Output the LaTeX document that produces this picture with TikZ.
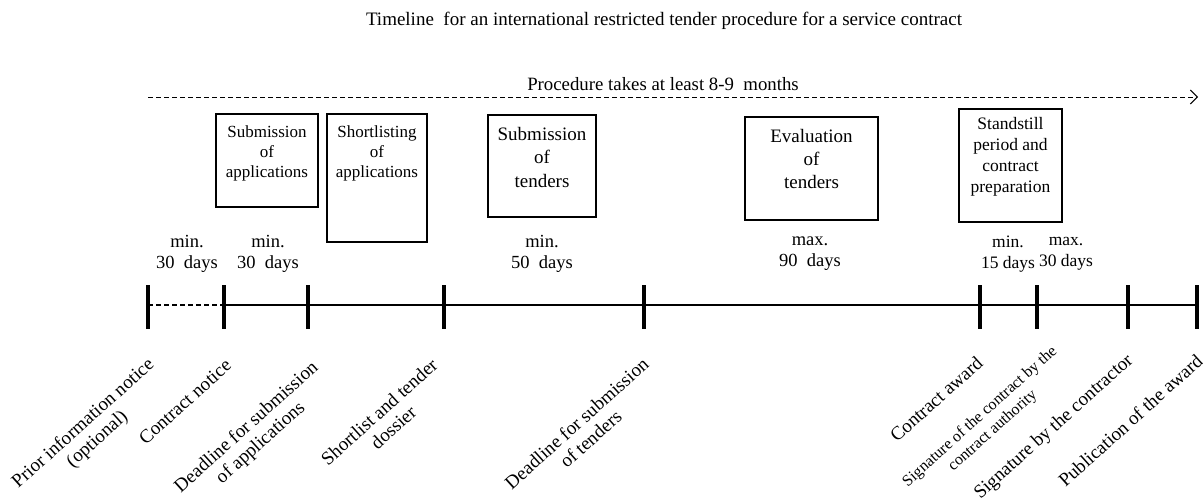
\documentclass[tikz,border=0pt]{standalone}
\usepackage{fontspec}
\setmainfont{Liberation Serif}
\usetikzlibrary{arrows.meta}
\begin{document}
\begin{tikzpicture}[x=1pt,y=-1pt,
  every node/.style={inner sep=0pt, outer sep=0pt},
  txt/.style={font=\fontsize{17}{20}\selectfont, align=center},
  boxframe/.style={draw, line width=1.2pt, inner sep=0pt},
  boxtext/.style={txt, anchor=north},
  dur/.style={font=\fontsize{18.5}{21}\selectfont, align=center},
  tick/.style={line width=3.6pt},
  evlabel/.style={font=\fontsize{19}{21}\selectfont, align=center, rotate=42, anchor=north east},
]
\useasboundingbox (0,0) rectangle (1203,501);

% title
\node[font=\fontsize{19}{22}\selectfont] (title) at (664,21) {Timeline\ \ for an international restricted tender procedure for a service contract};

% overall dashed arrow
\coordinate (arrS) at (148,97);
\coordinate (arrE) at (1198,97);
\draw[dashed, line width=0.9pt, dash pattern=on 5pt off 3pt, -{Straight Barb[length=7pt,width=14pt,line width=1pt]}] (arrS) -- (arrE);
\node[font=\fontsize{18.8}{22}\selectfont] (proc) at (663,84) {Procedure takes at least 8-9\ \ months};

% boxes
\node[boxframe, minimum width=102, minimum height=93] (b1) at (267,160.5) {};
\node[boxtext, yshift=-12pt] (b1t) at (b1.north) {Submission\\of\\applications};
\node[boxframe, minimum width=100, minimum height=128] (b2) at (377,178) {};
\node[boxtext, yshift=-12pt] (b2t) at (b2.north) {Shortlisting\\of\\applications};
\node[boxframe, minimum width=108, minimum height=102] (b3) at (542,166) {};
\node[boxtext, yshift=-12pt, font=\fontsize{19}{23.5}\selectfont] (b3t) at (b3.north) {Submission\\of\\tenders};
\node[boxframe, minimum width=133, minimum height=103] (b4) at (811.5,168.5) {};
\node[boxtext, yshift=-12pt, font=\fontsize{19}{23}\selectfont] (b4t) at (b4.north) {Evaluation\\of\\tenders};
\node[boxframe, minimum width=103, minimum height=113] (b5) at (1010.5,165.5) {};
\node[boxtext, yshift=-8pt, font=\fontsize{17.5}{21}\selectfont] (b5t) at (b5.north) {Standstill\\period and\\contract\\preparation};

% durations
\node[dur] (d1) at (187,254) {min.\\30\ \ days};
\node[dur] (d2) at (268,254) {min.\\30\ \ days};
\node[dur] (d3) at (542,254) {min.\\50\ \ days};
\node[dur] (d4) at (810,254) {max.\\90\ \ days};
\node[dur, font=\fontsize{17.5}{21}\selectfont] (d5) at (1008,254) {min.\\15 days};
\node[dur, font=\fontsize{17.5}{21}\selectfont] (d6) at (1066,254) {max.\\30 days};

% timeline ticks
\foreach \n/\x in {t1/148,t2/224,t3/308,t4/444,t5/644,t6/980,t7/1037,t8/1128,t9/1197}{
  \coordinate (\n top) at (\x,285);
  \coordinate (\n) at (\x,305);
  \coordinate (\n bot) at (\x,329);
  \draw[tick] (\n top) -- (\n bot);
}
\draw[line width=1.1pt, dashed, dash pattern=on 5pt off 3pt] (t1) -- (t2);
\draw[line width=1.1pt] (t2) -- (t9);

% event labels
\node[evlabel] (e1) at (146,356) {Prior information notice\\(optional)};
\node[evlabel] (e2) at (224,358) {Contract notice};
\node[evlabel] (e3) at (310,359) {Deadline for submission\\of applications};
\node[evlabel] (e4) at (430,357) {Shortlist and tender\\dossier};
\node[evlabel] (e5) at (641,356) {Deadline for submission\\of tenders};
\node[evlabel] (e6) at (975,355) {Contract award};
\node[evlabel, font=\fontsize{16}{19}\selectfont] (e7) at (1050,344) {Signature of the contract by the\\contract authority};
\node[evlabel] (e8) at (1125,352) {Signature by the contractor};
\node[evlabel] (e9) at (1195,353) {Publication of the award};
\end{tikzpicture}
\end{document}
